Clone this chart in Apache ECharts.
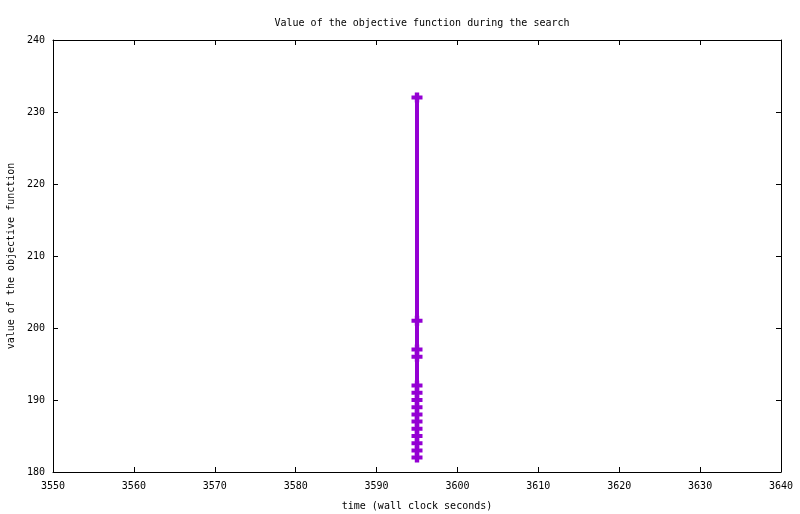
<!DOCTYPE html>
<html>
<head>
<meta charset="utf-8">
<script src="https://cdn.jsdelivr.net/npm/echarts@6/dist/echarts.min.js"></script>
<style>
html,body{margin:0;padding:0;background:#fff;}
#chart{width:800px;height:514px;}
</style>
</head>
<body>
<div id="chart"></div>
<script>
const timeSeconds = [3595, 3595, 3595, 3595, 3595, 3595, 3595, 3595, 3595, 3595, 3595, 3595, 3595, 3595, 3595];
const objectiveValues = [232, 201, 197, 196, 192, 191, 190, 189, 188, 187, 186, 185, 184, 183, 182];
const xTicks = { min: 3550, max: 3640, interval: 10 };
const yTicks = { min: 180, max: 240, interval: 10 };

const font = 'DejaVu Sans Mono';
const points = timeSeconds.map((t, i) => [t, objectiveValues[i]]);
const chart = echarts.init(document.getElementById('chart'), null, { renderer: 'canvas' });
const axisCommon = {
  axisLine: { show: true, lineStyle: { color: '#000', width: 1 } },
  axisTick: { show: true, inside: true, length: 5, lineStyle: { color: '#000' } },
  splitLine: { show: false }
};
chart.setOption({
  animation: false,
  backgroundColor: '#fff',
  title: {
    text: 'Value of the objective function during the search',
    left: 417, textAlign: 'center', top: 13,
    textStyle: { fontFamily: font, fontSize: 10, fontWeight: 'normal', color: '#000' }
  },
  grid: { left: 53, right: 19, top: 40, bottom: 42, containLabel: false, outerBoundsMode: 'none' },
  xAxis: [
    Object.assign({
      type: 'value', min: xTicks.min, max: xTicks.max, interval: xTicks.interval,
      name: 'time (wall clock seconds)', nameLocation: 'middle', nameGap: 29, nameMoveOverlap: false,
      nameTextStyle: { fontFamily: font, fontSize: 10, color: '#000' },
      axisLabel: { fontFamily: font, fontSize: 10, color: '#000', margin: 9, formatter: v => String(v) }
    }, axisCommon),
    Object.assign({
      type: 'value', position: 'top', min: xTicks.min, max: xTicks.max, interval: xTicks.interval,
      axisLabel: { show: false }
    }, axisCommon)
  ],
  yAxis: [
    Object.assign({
      type: 'value', min: yTicks.min, max: yTicks.max, interval: yTicks.interval,
      name: 'value of the objective function', nameLocation: 'middle', nameGap: 37, nameMoveOverlap: false,
      nameTextStyle: { fontFamily: font, fontSize: 10, color: '#000' },
      axisLabel: { fontFamily: font, fontSize: 10, color: '#000', margin: 8, formatter: v => String(v) }
    }, axisCommon),
    Object.assign({
      type: 'value', position: 'right', min: yTicks.min, max: yTicks.max, interval: yTicks.interval,
      axisLabel: { show: false }
    }, axisCommon)
  ],
  series: [{
    type: 'line',
    data: points,
    xAxisIndex: 0, yAxisIndex: 0,
    lineStyle: { color: '#9400D3', width: 4 },
    itemStyle: { color: '#9400D3' },
    symbol: 'path://M3,0H7V3H10V7H7V10H3V7H0V3H3Z',
    symbolSize: [11, 10],
    showSymbol: true,
    showAllSymbol: true,
    z: 5
  }]
});
</script>
</body>
</html>
